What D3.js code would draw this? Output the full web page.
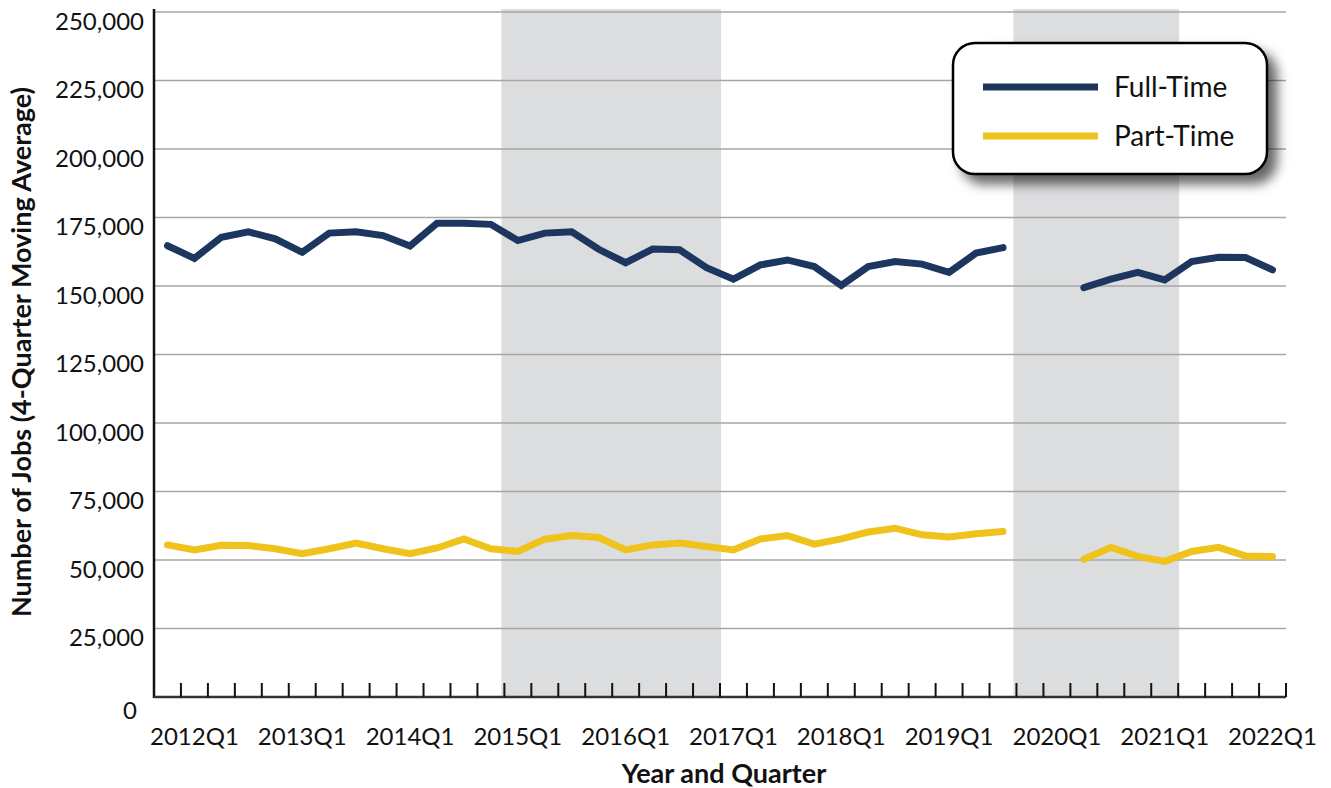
<!DOCTYPE html>
<html>
<head>
<meta charset="utf-8">
<script src="https://cdn.jsdelivr.net/npm/d3@7"></script>
<style>
  body { margin: 0; background: #fff; }
  text { font-family: Lato, "Open Sans", sans-serif; fill: #111; }
  .grid line { stroke: #a6a6a6; stroke-width: 1.3; }
</style>
</head>
<body>
<div id="chart"></div>
<script>
var quarters = ["2011Q4",
    "2012Q1","2012Q2","2012Q3","2012Q4","2013Q1","2013Q2","2013Q3","2013Q4",
    "2014Q1","2014Q2","2014Q3","2014Q4","2015Q1","2015Q2","2015Q3","2015Q4",
    "2016Q1","2016Q2","2016Q3","2016Q4","2017Q1","2017Q2","2017Q3","2017Q4",
    "2018Q1","2018Q2","2018Q3","2018Q4","2019Q1","2019Q2","2019Q3","2019Q4",
    "2020Q1","2020Q2","2020Q3","2020Q4","2021Q1","2021Q2","2021Q3","2021Q4",
    "2022Q1"];

var fullTime = [164700, 160100, 167800, 169800, 167200, 162300, 169300, 169800,
    168400, 164600, 172900, 172900, 172500, 166600, 169300, 169800,
    163400, 158500, 163500, 163200, 156700, 152500, 157700, 159500,
    157100, 150200, 157100, 158900, 158000, 155000, 162000, 164000,
    null, null, 149400, 152500, 155000, 152200, 158900, 160500, 160400, 155900];

var partTime = [55500, 53700, 55400, 55300, 54100, 52300, 54100, 56200,
    54100, 52300, 54400, 57700, 54100, 53100, 57600, 58900,
    58200, 53700, 55500, 56200, 54900, 53700, 57700, 58900,
    55800, 57700, 60200, 61600, 59200, 58400, 59600, 60400,
    null, null, 50300, 54600, 51300, 49500, 53100, 54600, 51500, 51300];

var seriesNames = ["Full-Time", "Part-Time"];
var seriesColors = ["#1d365f", "#f0c31c"];

var yTicks = [0, 25000, 50000, 75000, 100000, 125000, 150000, 175000, 200000, 225000, 250000];
var xLabelEvery = 4; // labels start at 2012Q1

var shadeStart = ["2015Q1", "2019Q4"];
var shadeEnd = ["2017Q1", "2021Q2"];

var width = 1331, height = 788;
var margin = { top: 12, right: 45, bottom: 91, left: 154 };

var svg = d3.select("#chart").append("svg")
    .attr("width", width)
    .attr("height", height);

var defs = svg.append("defs");
defs.append("filter")
    .attr("id", "shadow")
    .attr("x", "-20%").attr("y", "-20%")
    .attr("width", "150%").attr("height", "160%")
    .append("feDropShadow")
    .attr("dx", 9).attr("dy", 9)
    .attr("stdDeviation", 6)
    .attr("flood-color", "#000")
    .attr("flood-opacity", 0.6);

var x = d3.scaleBand()
    .domain(quarters)
    .range([margin.left, width - margin.right])
    .padding(0);

var y = d3.scaleLinear()
    .domain([0, 250000])
    .range([height - margin.bottom, margin.top]);

var bw = x.bandwidth();

// shaded periods
svg.selectAll("rect.shade")
    .data(shadeStart.map((s, i) => ({ s: s, e: shadeEnd[i] })))
    .enter().append("rect")
    .attr("class", "shade")
    .attr("x", d => x(d.s) - 3)
    .attr("y", y(250000) - 3)
    .attr("width", d => x(d.e) - x(d.s) + 4)
    .attr("height", y(0) - y(250000) + 3)
    .attr("fill", "#dcdddf");

// gridlines
svg.append("g")
    .attr("class", "grid")
    .selectAll("line")
    .data(yTicks.filter(d => d > 0))
    .enter().append("line")
    .attr("x1", margin.left)
    .attr("x2", width - margin.right)
    .attr("y1", d => y(d))
    .attr("y2", d => y(d));

// lines
var line = d3.line()
    .defined(d => d.v != null)
    .x(d => x(d.q) + bw / 2)
    .y(d => y(d.v));

[fullTime, partTime].forEach((vals, i) => {
    svg.append("path")
        .datum(vals.map((v, j) => ({ q: quarters[j], v: v })))
        .attr("fill", "none")
        .attr("stroke", seriesColors[i])
        .attr("stroke-width", 7)
        .attr("stroke-linecap", "round")
        .attr("stroke-linejoin", "miter")
        .attr("d", line);
});

// y axis
var yAxis = svg.append("g")
    .attr("transform", "translate(" + margin.left + ",0)")
    .call(d3.axisLeft(y).tickValues(yTicks).tickSize(0).tickPadding(10).tickFormat(d3.format(",")));
yAxis.select(".domain").remove();
yAxis.selectAll("text")
    .attr("dy", "0.72em")
    .style("font-size", "24px")
    .style("font-family", "Lato, sans-serif")
    .attr("fill", "#111");
yAxis.selectAll(".tick").filter(d => d === 0).select("text")
    .attr("x", -17).attr("dy", "0.9em");

svg.append("line")
    .attr("x1", margin.left).attr("x2", margin.left)
    .attr("y1", y(250000) - 3).attr("y2", y(0) + 1)
    .attr("stroke", "#111").attr("stroke-width", 2.5);

// x axis
svg.append("line")
    .attr("x1", margin.left).attr("x2", width - margin.right)
    .attr("y1", y(0)).attr("y2", y(0))
    .attr("stroke", "#333").attr("stroke-width", 2.5);

svg.selectAll("line.xtick")
    .data(quarters)
    .enter().append("line")
    .attr("class", "xtick")
    .attr("x1", d => x(d) + bw)
    .attr("x2", d => x(d) + bw)
    .attr("y1", y(0))
    .attr("y2", y(0) - 14)
    .attr("stroke", "#111")
    .attr("stroke-width", 2);

svg.selectAll("text.xlabel")
    .data(quarters.filter((q, i) => i % xLabelEvery === 1))
    .enter().append("text")
    .attr("class", "xlabel")
    .attr("x", d => x(d) + bw / 2)
    .attr("y", y(0) + 48)
    .attr("text-anchor", "middle")
    .style("font-size", "24px")
    .text(d => d);

// axis titles
svg.append("text")
    .attr("transform", "translate(31,352) rotate(-90)")
    .attr("text-anchor", "middle")
    .style("font-size", "27px")
    .style("font-weight", "bold")
    .text("Number of Jobs (4-Quarter Moving Average)");

svg.append("text")
    .attr("x", 724)
    .attr("y", 783)
    .attr("text-anchor", "middle")
    .style("font-size", "27px")
    .style("font-weight", "bold")
    .text("Year and Quarter");

// legend
var lg = svg.append("g").attr("transform", "translate(953,43)");
lg.append("rect")
    .attr("width", 314)
    .attr("height", 131)
    .attr("rx", 22)
    .attr("fill", "#fff")
    .attr("stroke", "#000")
    .attr("stroke-width", 2.5)
    .attr("filter", "url(#shadow)");

var items = lg.selectAll("g.item")
    .data(seriesNames)
    .enter().append("g")
    .attr("class", "item")
    .attr("transform", (d, i) => "translate(0," + (44 + i * 49) + ")");
items.append("line")
    .attr("x1", 30).attr("x2", 145)
    .attr("stroke", (d, i) => seriesColors[i])
    .attr("stroke-width", 7);
items.append("text")
    .attr("x", 161)
    .attr("dy", "0.35em")
    .style("font-size", "28px")
    .text(d => d);
</script>
</body>
</html>
